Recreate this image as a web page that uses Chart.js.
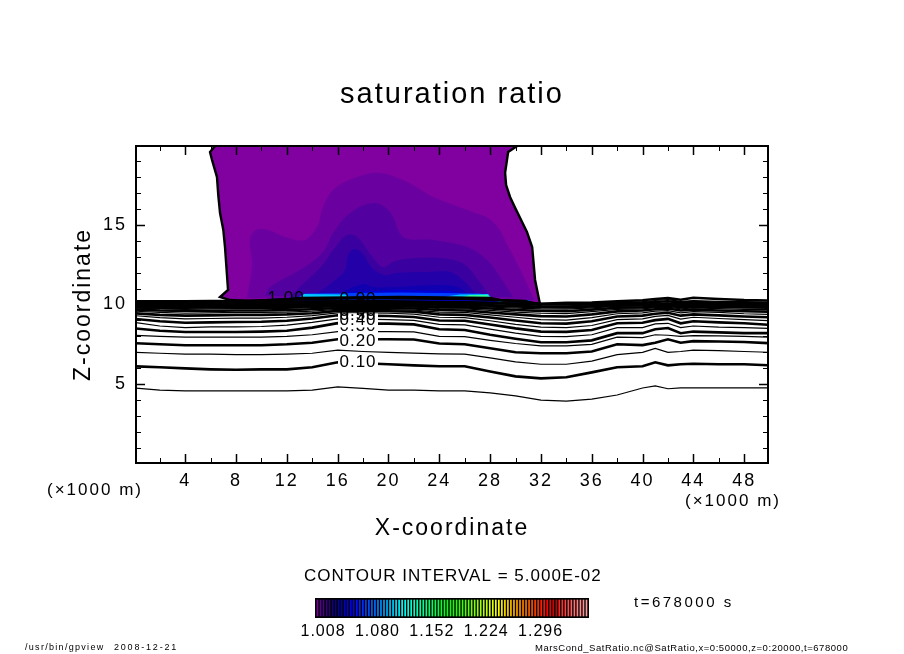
<!DOCTYPE html>
<html>
<head>
<meta charset="utf-8">
<title>saturation ratio</title>
<script src="https://cdn.jsdelivr.net/npm/chart.js@4"></script>
<style>
  body { margin: 0; background: #fff; }
  #plot { position: absolute; left: 0; top: 0; }
  #bar { position: absolute; left: 290px; top: 590px; }
</style>
</head>
<body>
<canvas id="plot" width="904" height="654"></canvas>
<canvas id="bar" width="330" height="52"></canvas>
<script>
// outer edge of the shaded area, this is the 1.00 contour (x and z in 1000 m)
const outerX = [6.35, 5.95, 6.11, 6.5, 6.6, 6.74, 7.0, 7.13, 7.37, 6.74, 7.53, 9.1, 12.25, 13.04, 20.91, 28.0, 28.79, 30.76, 31.94, 31.54, 31.31, 30.9, 29.98, 29.57, 29.26, 29.18, 29.42, 30.13];
const outerZ = [19.95, 19.57, 19.07, 18.0, 16.88, 15.74, 14.67, 13.61, 10.91, 10.47, 10.28, 10.22, 10.35, 10.41, 10.47, 10.41, 10.28, 10.22, 9.97, 11.54, 13.61, 14.56, 16.05, 16.75, 17.5, 18.26, 19.57, 19.95];

// shaded bands, from the weakest to the strongest
const band2X = [8.87, 9.26, 9.1, 9.57, 10.52, 11.86, 13.43, 14.46, 14.77, 15.64, 17.53, 19.34, 21.46, 23.51, 26.19, 28.24, 29.57, 30.76, 31.47];
const band2Z = [10.41, 12.48, 14.05, 14.68, 14.68, 14.24, 14.05, 14.99, 15.93, 17.19, 18.0, 18.26, 17.69, 16.75, 15.93, 15.18, 13.42, 11.54, 10.28];
const band3X = [10.28, 10.68, 13.28, 14.85, 15.64, 16.98, 18.79, 20.13, 21.15, 23.51, 26.19, 27.76, 28.79, 29.81];
const band3Z = [10.53, 11.1, 12.29, 13.3, 14.49, 15.74, 16.37, 15.81, 14.24, 14.05, 13.61, 12.79, 11.73, 10.47];
const band4X = [12.25, 13.43, 14.61, 15.95, 16.74, 17.53, 18.79, 19.57, 20.52, 22.09, 23.91, 25.8, 27.06, 28.0];
const band4Z = [10.47, 11.41, 12.29, 13.74, 14.36, 14.24, 12.92, 12.35, 12.73, 12.92, 12.92, 12.61, 11.54, 10.47];
const band5X = [13.98, 15.8, 16.58, 16.82, 17.29, 17.92, 18.71, 19.73, 20.52, 23.12, 24.85, 26.03, 27.06];
const band5Z = [10.47, 11.54, 12.17, 13.11, 13.48, 13.23, 12.29, 11.85, 11.98, 12.04, 12.04, 11.41, 10.47];
const band6X = [15.8, 16.98, 18.16, 18.71, 20.52, 23.91, 25.64, 26.43];
const band6Z = [10.47, 11.04, 11.29, 11.1, 11.1, 11.22, 11.04, 10.47];
const band7X = [9.1, 13.04, 16.98, 20.91, 24.85, 27.2, 28.39, 31.15, 31.15, 9.1];
const band7Z = [10.28, 10.47, 10.78, 10.91, 10.85, 10.53, 10.22, 10.16, 10.1, 10.1];
const stripBlueX = [12.8, 13.43, 20.91, 27.2, 28.15, 28.15, 12.8];
const stripBlueZ = [10.44, 10.69, 10.75, 10.69, 10.41, 10.3, 10.3];
const stripCyanX = [13.04, 13.36, 16.58, 16.98];
const stripCyanZ = [10.47, 10.66, 10.63, 10.47];
const stripCyan2X = [24.46, 25.64, 27.84, 28.07];
const stripCyan2Z = [10.5, 10.63, 10.66, 10.44];
const stripGreenX = [25.8, 26.43, 27.76, 28.0];
const stripGreenZ = [10.47, 10.6, 10.6, 10.44];
const rightStripX = [29.42, 29.6, 31.1, 31.3];
const rightStripZ = [10.1, 10.28, 10.28, 10.1];
const spotX = [28.6, 28.8, 29.0, 28.8];
const spotZ = [10.22, 10.36, 10.22, 10.1];
const bandColors = ["#8000a0", "#6a00a0", "#5200a0", "#3a00a0", "#2400a8", "#1000b0", "#0000d8", "#0040ff", "#00c8ff", "#00c8ff", "#30ffa0", "#0060ff", "#00c0ff"];

// contours, one height per contourX position
const contourX = [0, 2, 4, 6, 8, 10, 12, 14, 16, 18, 20, 22, 24, 26, 28, 30, 32, 34, 36, 38, 40, 41, 42, 43, 44, 46, 48, 50];
const c005 = [4.76, 4.63, 4.58, 4.58, 4.58, 4.58, 4.58, 4.63, 4.83, 4.73, 4.63, 4.63, 4.58, 4.58, 4.45, 4.26, 4.0, 3.94, 4.06, 4.32, 4.76, 4.89, 4.71, 4.76, 4.76, 4.76, 4.76, 4.76];
const c010 = [6.12, 6.06, 5.99, 5.93, 5.9, 5.93, 5.93, 6.06, 6.37, 6.31, 6.25, 6.18, 6.12, 6.12, 5.8, 5.49, 5.36, 5.43, 5.74, 6.06, 6.12, 6.37, 6.18, 6.25, 6.28, 6.25, 6.25, 6.18];
const c015 = [7.0, 6.94, 6.88, 6.88, 6.85, 6.85, 6.88, 6.94, 7.13, 7.05, 7.0, 6.95, 6.9, 6.88, 6.65, 6.4, 6.25, 6.25, 6.45, 6.85, 7.0, 7.25, 7.0, 7.05, 7.13, 7.1, 7.05, 7.0];
const c020 = [7.57, 7.5, 7.44, 7.44, 7.44, 7.44, 7.5, 7.6, 7.82, 7.82, 7.82, 7.8, 7.55, 7.5, 7.25, 7.0, 6.94, 6.94, 7.05, 7.5, 7.45, 7.6, 7.82, 7.6, 7.7, 7.68, 7.65, 7.57];
const c025 = [8.07, 8.0, 7.95, 7.95, 7.95, 7.95, 8.0, 8.1, 8.3, 8.3, 8.3, 8.28, 8.0, 7.98, 7.75, 7.55, 7.4, 7.4, 7.5, 7.95, 7.92, 8.1, 8.07, 8.0, 8.05, 8.03, 8.0, 7.95];
const c030 = [8.5, 8.35, 8.27, 8.27, 8.27, 8.3, 8.35, 8.55, 8.83, 8.8, 8.8, 8.75, 8.45, 8.4, 8.1, 7.85, 7.63, 7.63, 7.75, 8.2, 8.2, 8.45, 8.52, 8.2, 8.3, 8.25, 8.2, 8.2];
const c035 = [8.87, 8.65, 8.55, 8.6, 8.6, 8.62, 8.7, 8.88, 9.1, 9.08, 9.05, 9.0, 8.75, 8.72, 8.45, 8.2, 8.0, 7.98, 8.1, 8.55, 8.55, 8.78, 8.82, 8.55, 8.65, 8.58, 8.55, 8.5];
const c040 = [9.1, 8.95, 8.85, 8.88, 8.9, 8.92, 8.98, 9.12, 9.32, 9.3, 9.28, 9.22, 9.0, 8.98, 8.75, 8.5, 8.3, 8.28, 8.4, 8.82, 8.85, 9.02, 9.1, 8.82, 8.95, 8.88, 8.82, 8.72];
const c045 = [9.3, 9.18, 9.1, 9.12, 9.15, 9.15, 9.2, 9.3, 9.48, 9.47, 9.45, 9.4, 9.2, 9.18, 8.98, 8.75, 8.58, 8.55, 8.68, 9.05, 9.1, 9.25, 9.32, 9.08, 9.2, 9.12, 9.05, 8.98];
const c050 = [9.45, 9.35, 9.3, 9.32, 9.35, 9.35, 9.38, 9.45, 9.6, 9.6, 9.58, 9.55, 9.38, 9.35, 9.18, 9.0, 8.82, 8.8, 8.95, 9.25, 9.3, 9.42, 9.48, 9.3, 9.38, 9.32, 9.25, 9.2];
const c055 = [9.58, 9.5, 9.45, 9.48, 9.5, 9.5, 9.52, 9.58, 9.7, 9.7, 9.68, 9.65, 9.52, 9.5, 9.35, 9.2, 9.05, 9.02, 9.18, 9.42, 9.47, 9.58, 9.62, 9.48, 9.55, 9.5, 9.42, 9.38];
const c060 = [9.68, 9.62, 9.6, 9.6, 9.62, 9.62, 9.65, 9.7, 9.78, 9.78, 9.77, 9.75, 9.65, 9.62, 9.5, 9.38, 9.27, 9.25, 9.38, 9.57, 9.62, 9.7, 9.75, 9.62, 9.68, 9.62, 9.58, 9.55];
const c065 = [9.78, 9.72, 9.7, 9.72, 9.74, 9.74, 9.75, 9.8, 9.85, 9.85, 9.85, 9.83, 9.75, 9.73, 9.63, 9.52, 9.45, 9.43, 9.55, 9.7, 9.73, 9.8, 9.83, 9.73, 9.78, 9.74, 9.7, 9.68];
const c070 = [9.85, 9.8, 9.8, 9.82, 9.82, 9.83, 9.84, 9.87, 9.92, 9.92, 9.92, 9.9, 9.83, 9.82, 9.75, 9.65, 9.6, 9.58, 9.68, 9.8, 9.82, 9.88, 9.92, 9.82, 9.86, 9.84, 9.82, 9.8];
const c075 = [9.9, 9.87, 9.88, 9.88, 9.88, 9.9, 9.92, 9.95, 9.98, 9.98, 9.97, 9.96, 9.9, 9.9, 9.83, 9.77, 9.72, 9.71, 9.79, 9.88, 9.9, 9.95, 9.97, 9.9, 9.93, 9.9, 9.9, 9.88];
const c080 = [9.97, 9.93, 9.94, 9.94, 9.95, 9.97, 9.98, 10.02, 10.04, 10.04, 10.03, 10.02, 9.98, 9.97, 9.93, 9.87, 9.83, 9.82, 9.88, 9.95, 9.97, 10.0, 10.03, 9.97, 10.0, 9.97, 9.96, 9.95];
const c085 = [10.03, 10.0, 10.0, 10.0, 10.02, 10.03, 10.05, 10.08, 10.1, 10.1, 10.09, 10.08, 10.05, 10.03, 10.0, 9.95, 9.92, 9.92, 9.96, 10.02, 10.03, 10.07, 10.1, 10.04, 10.07, 10.05, 10.03, 10.02];
const c090 = [10.1, 10.05, 10.06, 10.06, 10.08, 10.1, 10.12, 10.15, 10.17, 10.17, 10.16, 10.15, 10.12, 10.1, 10.08, 10.03, 10.0, 10.0, 10.03, 10.08, 10.1, 10.16, 10.2, 10.12, 10.15, 10.12, 10.1, 10.08];
const c095 = [10.15, 10.12, 10.12, 10.12, 10.15, 10.17, 10.2, 10.23, 10.25, 10.25, 10.24, 10.22, 10.2, 10.18, 10.15, 10.1, 10.07, 10.07, 10.1, 10.15, 10.18, 10.25, 10.3, 10.2, 10.25, 10.2, 10.18, 10.15];
const c100 = [10.2, 10.2, 10.2, 10.22, 10.22, 10.25, 10.3, 10.35, 10.38, 10.4, 10.4, 10.38, 10.36, 10.35, 10.3, 10.2, 10.05, 10.1, 10.12, 10.2, 10.27, 10.35, 10.4, 10.3, 10.42, 10.35, 10.28, 10.25];

// contour labels
const labelTexts = ["0.10", "0.20", "0.30", "0.40", "0.50", "0.60", "0.70", "0.80", "0.90", "1.00"];
const labelX = [17.6, 17.6, 17.6, 17.6, 17.6, 17.6, 17.6, 17.6, 17.6, 11.94];
const labelZ = [6.39, 7.71, 8.6, 9.0, 9.3, 9.55, 9.8, 10.0, 10.3, 10.41];

// colour bar
const barLevels = ["1.008", "1.012", "1.016", "1.020", "1.024", "1.028", "1.032", "1.036", "1.040", "1.044", "1.048", "1.052", "1.056", "1.060", "1.064", "1.068", "1.072", "1.076", "1.080", "1.084", "1.088", "1.092", "1.096", "1.100", "1.104", "1.108", "1.112", "1.116", "1.120", "1.124", "1.128", "1.132", "1.136", "1.140", "1.144", "1.148", "1.152", "1.156", "1.160", "1.164", "1.168", "1.172", "1.176", "1.180", "1.184", "1.188", "1.192", "1.196", "1.200", "1.204", "1.208", "1.212", "1.216", "1.220", "1.224", "1.228", "1.232", "1.236", "1.240", "1.244", "1.248", "1.252", "1.256", "1.260", "1.264", "1.268", "1.272", "1.276", "1.280", "1.284", "1.288", "1.292", "1.296", "1.300", "1.304", "1.308", "1.312", "1.316", "1.320", "1.324", "1.328", "1.332", "1.336", "1.340", "1.344", "1.348", "1.352", "1.356", "1.360", "1.364"];
const barColors = ["#7a00a0", "#5a0090", "#480088", "#38007c", "#280078", "#180078", "#0c0088", "#040098", "#0000a8", "#0000c8", "#0000e0", "#0000f0", "#0000ff", "#0010ff", "#0020ff", "#0030ff", "#0040ff", "#0050ff", "#0060ff", "#0070ff", "#0080ff", "#0090ff", "#00a0ff", "#00b0ff", "#00c0ff", "#00d0ff", "#00e0ff", "#00f0ff", "#00ffff", "#00fff0", "#00ffe0", "#00ffd0", "#00ffc0", "#00ffb0", "#00ffa0", "#00ff90", "#00ff80", "#00ff70", "#00ff60", "#00ff50", "#00ff40", "#00ff30", "#00ff20", "#00ff10", "#00ff00", "#10ff00", "#20ff00", "#30ff00", "#40ff00", "#50ff00", "#60ff00", "#70ff00", "#80ff00", "#90ff00", "#a0ff00", "#b0ff00", "#c0ff00", "#d0ff00", "#e0ff00", "#f0ff00", "#ffff00", "#fff000", "#ffe000", "#ffd000", "#ffc000", "#ffb000", "#ffa000", "#ff9000", "#ff8000", "#ff7000", "#ff6000", "#ff5000", "#ff4000", "#ff3000", "#ff2000", "#ff1000", "#ff0000", "#e80000", "#d00000", "#c00000", "#ff2020", "#ff3030", "#ff4040", "#ff5050", "#ff6060", "#ff7070", "#ff8080", "#ff8888", "#ff9090", "#ff9898"];
const barTickLabels = ["1.008", "1.080", "1.152", "1.224", "1.296"];

Chart.defaults.font.family = '"Liberation Sans"';
Chart.defaults.color = "#000";

const toPoints = (xs, zs) => xs.map((x, i) => ({ x: x, y: zs[i] }));

const shapes = [
  [outerX, outerZ], [band2X, band2Z], [band3X, band3Z], [band4X, band4Z], [band5X, band5Z],
  [band6X, band6Z], [band7X, band7Z], [stripBlueX, stripBlueZ], [stripCyanX, stripCyanZ],
  [stripCyan2X, stripCyan2Z], [stripGreenX, stripGreenZ], [rightStripX, rightStripZ], [spotX, spotZ],
];
const contours = [c005, c010, c015, c020, c025, c030, c035, c040, c045, c050, c055, c060, c065, c070, c075, c080, c085, c090, c095, c100];

const datasets = shapes.map((s, i) => ({
  data: toPoints(s[0], s[1]),
  showLine: true,
  fill: "shape",
  backgroundColor: bandColors[i],
  borderWidth: 0,
  pointRadius: 0,
  tension: i >= 1 && i <= 5 ? 0.35 : 0,
}));
contours.forEach((zs, i) => {
  datasets.push({
    data: toPoints(contourX, zs),
    showLine: true,
    fill: false,
    borderColor: "#000",
    borderWidth: i % 2 === 1 ? 2.6 : 1.2,
    pointRadius: 0,
  });
});
// the 1.00 contour around the shaded area
datasets.push({
  data: toPoints(outerX, outerZ),
  showLine: true,
  fill: false,
  borderColor: "#000",
  borderWidth: 2.4,
  pointRadius: 0,
});
// first dataset ends up on top in chart.js, so turn the list around
datasets.reverse();

const spacing = {
  id: "spacing",
  beforeDraw(chart) {
    chart.ctx.letterSpacing = "2px";
  },
};

const frame = {
  id: "frame",
  afterDatasetsDraw(chart) {
    const { ctx, chartArea: a, scales } = chart;
    ctx.save();
    ctx.fillStyle = "#000";
    ctx.font = '17px "Liberation Sans"';
    ctx.letterSpacing = "1px";
    ctx.textAlign = "center";
    ctx.textBaseline = "middle";
    labelTexts.forEach((t, i) => {
      const px = scales.x.getPixelForValue(labelX[i]);
      const py = scales.y.getPixelForValue(labelZ[i]);
      if (labelZ[i] < 9.2) {
        ctx.fillStyle = "#fff";
        ctx.fillRect(px - 20, py - 7, 40, 14);
        ctx.fillStyle = "#000";
      }
      ctx.fillText(t, px, py);
    });

    ctx.strokeStyle = "#000";
    scales.x.ticks.forEach((t) => {
      const long = t.value % 4 === 0;
      const len = long ? 9 : 5;
      const px = Math.round(scales.x.getPixelForValue(t.value)) + 0.5;
      ctx.lineWidth = long ? 1.5 : 1;
      ctx.beginPath();
      ctx.moveTo(px, a.bottom);
      ctx.lineTo(px, a.bottom - len);
      ctx.moveTo(px, a.top);
      ctx.lineTo(px, a.top + len);
      ctx.stroke();
    });
    scales.y.ticks.forEach((t) => {
      const long = t.value % 5 === 0;
      const len = long ? 9 : 5;
      const py = Math.round(scales.y.getPixelForValue(t.value)) + 0.5;
      ctx.lineWidth = long ? 1.5 : 1;
      ctx.beginPath();
      ctx.moveTo(a.left, py);
      ctx.lineTo(a.left + len, py);
      ctx.moveTo(a.right, py);
      ctx.lineTo(a.right - len, py);
      ctx.stroke();
    });
    ctx.lineWidth = 2;
    ctx.strokeRect(a.left, a.top, a.right - a.left, a.bottom - a.top);
    ctx.restore();
  },
};

const notes = {
  id: "notes",
  afterDraw(chart) {
    const { ctx } = chart;
    const put = (text, x, y, size, gap) => {
      ctx.font = size + 'px "Liberation Sans"';
      ctx.letterSpacing = gap + "px";
      ctx.fillText(text, x, y);
    };
    ctx.save();
    ctx.fillStyle = "#000";
    ctx.textBaseline = "middle";
    ctx.textAlign = "left";
    put("(×1000 m)", 47, 490, 17, 2);
    put("(×1000 m)", 685, 501, 17, 2);
    put("CONTOUR INTERVAL = 5.000E-02", 304, 576, 17, 1);
    put("t=678000 s", 634, 603, 15, 2.5);
    put("/usr/bin/gpview", 25, 648, 9, 1.3);
    put("2008-12-21", 114, 648, 9, 1.8);
    put("MarsCond_SatRatio.nc@SatRatio,x=0:50000,z=0:20000,t=678000", 535, 648, 9.5, 0.55);
    ctx.restore();
  },
};

new Chart(document.getElementById("plot"), {
  type: "scatter",
  data: { datasets: datasets },
  plugins: [spacing, frame, notes],
  options: {
    responsive: false,
    animation: false,
    devicePixelRatio: 1,
    events: [],
    plugins: {
      legend: { display: false },
      tooltip: { enabled: false },
      title: {
        display: true,
        text: "saturation ratio",
        font: { size: 29, weight: "normal" },
        padding: { top: 77.6, bottom: 33.6 },
      },
    },
    scales: {
      x: {
        type: "linear",
        min: 0.125,
        max: 49.875,
        grid: { display: false, drawTicks: false },
        border: { display: false },
        afterFit(scale) {
          scale.height = 191;
        },
        ticks: {
          stepSize: 2,
          includeBounds: false,
          autoSkip: false,
          maxRotation: 0,
          padding: 7,
          font: { size: 18 },
          callback: (v) => (v % 4 === 0 ? v : ""),
        },
        title: {
          display: true,
          text: "X-coordinate",
          font: { size: 23 },
          padding: { bottom: 112 },
        },
      },
      y: {
        type: "linear",
        min: 0.05,
        max: 19.95,
        grid: { display: false, drawTicks: false },
        border: { display: false },
        afterFit(scale) {
          scale.width = 136;
        },
        ticks: {
          stepSize: 1,
          includeBounds: false,
          autoSkip: false,
          padding: 9,
          font: { size: 18 },
          callback: (v) => (v % 5 === 0 ? v : ""),
        },
        title: {
          display: true,
          text: "Z-coordinate",
          font: { size: 23 },
          padding: { top: 70 },
        },
      },
      // empty axis, only keeps the margin on the right
      yRight: {
        type: "linear",
        position: "right",
        grid: { display: false, drawTicks: false },
        border: { display: false },
        ticks: { display: false },
        afterFit(scale) {
          scale.width = 136;
        },
      },
    },
  },
});

const barBackground = {
  id: "barBackground",
  beforeDraw(chart) {
    chart.ctx.letterSpacing = "1px";
  },
  beforeDatasetsDraw(chart) {
    const { ctx, chartArea: a } = chart;
    ctx.save();
    ctx.fillStyle = "#000";
    ctx.fillRect(a.left - 1, a.top, a.right - a.left + 2, a.bottom - a.top);
    ctx.restore();
  },
};

new Chart(document.getElementById("bar"), {
  type: "bar",
  data: {
    labels: barLevels,
    datasets: [{ data: barLevels.map(() => 1), backgroundColor: barColors, barThickness: 1 }],
  },
  plugins: [barBackground],
  options: {
    responsive: false,
    animation: false,
    devicePixelRatio: 1,
    events: [],
    layout: { padding: { left: 26, right: 32, top: 8 } },
    plugins: { legend: { display: false }, tooltip: { enabled: false } },
    scales: {
      x: {
        grid: { display: false, drawTicks: false },
        border: { display: false },
        afterFit(scale) {
          scale.height = 24;
        },
        ticks: {
          autoSkip: false,
          maxRotation: 0,
          padding: 4,
          labelOffset: 5.5,
          font: { size: 16 },
          callback(v) {
            const t = this.getLabelForValue(v);
            return barTickLabels.includes(t) ? t : "";
          },
        },
      },
      y: { display: false, min: -0.125, max: 1.125 },
    },
  },
});
</script>
</body>
</html>
